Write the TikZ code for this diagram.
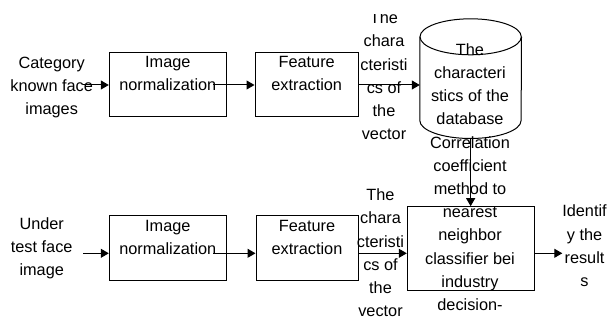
\documentclass[tikz,border=0pt]{standalone}
\usepackage{fontspec}
\setmainfont{Liberation Sans}
\usetikzlibrary{arrows.meta,calc}
\begin{document}
\begin{tikzpicture}[x=1pt,y=-1pt,
  box/.style={draw, line width=1pt, inner sep=0pt},
  txt/.style={anchor=north, inner sep=0pt, align=center, font=\fontsize{16.3pt}{23.2pt}\selectfont},
  arr/.style={line width=1pt, -{Triangle[length=8pt,width=9pt]}}]
\useasboundingbox (0,0) rectangle (608,320);
\begin{scope}
\clip (0,15) rectangle (608,320);
% boxes
\node[box, minimum width=117pt, minimum height=64.7pt] (n1) at (167.8,84.65) {};
\node[box, minimum width=103.3pt, minimum height=64.7pt] (f1) at (306.65,84.65) {};
\node[box, minimum width=117pt, minimum height=64.7pt] (n2) at (167.8,248.35) {};
\node[box, minimum width=102.3pt, minimum height=64.7pt] (f2) at (307.15,248.35) {};
\node[box, minimum width=126.7pt, minimum height=84pt] (cls) at (470.65,248.7) {};
\node[inner sep=0pt, minimum width=101.3pt, minimum height=119.3pt] (db) at (470.65,78.65) {};
% cylinder
\draw[line width=1pt] ([yshift=-18pt]db.north west) -- ([yshift=18pt]db.south west)
  arc[start angle=180, end angle=360, x radius=50.65pt, y radius=18pt]
  -- ([yshift=-18pt]db.north east);
\draw[line width=1pt] ([yshift=-18pt]db.north) ellipse [x radius=50.65pt, y radius=18pt];
% texts
\node[txt] (cat) at (51.7,51.7) {\strut Category\\known face\\images};
\node[txt] (n1t) at (167.8,51.2) {\strut Image\\normalization};
\node[txt] (f1t) at (306.7,51.2) {\strut Feature\\extraction};
\node[txt] (vec1) at (384,7.2) {\strut The\\chara\\cteristi\\cs of\\the\\vector};
\node[txt] (dbt) at (470,38.7) {\strut The\\characteri\\stics of the\\database};
\node[txt] (clst) at (470,131.7) {\strut Correlation\\coefficient\\method to\\nearest\\neighbor\\classifier bei\\industry\\decision-};
\node[txt] (under) at (41.7,212.7) {\strut Under\\test face\\image};
\node[txt] (n2t) at (167.8,215.2) {\strut Image\\normalization};
\node[txt] (f2t) at (307,215.2) {\strut Feature\\extraction};
\node[txt] (vec2) at (380.5,184.2) {\strut The\\chara\\cteristi\\cs of\\the\\vector};
\node[txt] (res) at (584.5,200.4) {\strut Identif\\y the\\result\\s};
% connectors
\coordinate (c1) at (83.3,85);
\coordinate (c2) at (213,85);
\coordinate (c3) at (83.3,253.3);
\coordinate (c4) at (213,253.3);
\coordinate (c5) at (562.3,253.3);
\draw[arr] (c1) -- (c1 -| n1.west);
\draw[arr] (c2) -- (c2 -| f1.west);
\draw[arr] (c2 -| f1.east) -- (c2 -| db.west);
\draw[arr] (db.south) -- (cls.north);
\draw[arr] (c3) -- (c3 -| n2.west);
\draw[arr] (c4) -- (c4 -| f2.west);
\draw[arr] (c4 -| f2.east) -- (c4 -| cls.west);
\draw[arr] (c4 -| cls.east) -- (c5);
\end{scope}
\end{tikzpicture}
\end{document}
